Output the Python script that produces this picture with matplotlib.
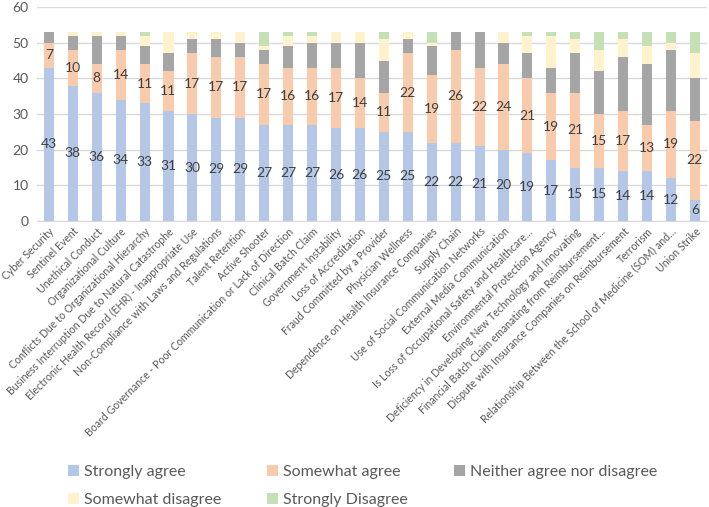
import numpy as np
import matplotlib
matplotlib.use("Agg")
import matplotlib.pyplot as plt

plt.rcParams['font.family'] = ['Lato', 'DejaVu Sans']

# Risk categories (x axis)
categories = [
    "Cyber Security", "Sentinel Event", "Unethical Conduct", "Organizational Culture",
    "Conflicts Due to Organizational Hierarchy",
    "Business Interruption Due to Natural Catastrophe",
    "Electronic Health Record (EHR) - Inappropriate Use",
    "Non-Compliance with Laws and Regulations", "Talent Retention", "Active Shooter",
    "Board Governance - Poor Communication or Lack of Direction",
    "Clinical Batch Claim", "Government Instability", "Loss of Accreditation",
    "Fraud Committed by a Provider", "Physician Wellness",
    "Dependence on Health Insurance Companies", "Supply Chain",
    "Use of Social Communication Networks", "External Media Communication",
    "Is Loss of Occupational Safety and Healthcare...",
    "Environmental Protection Agency",
    "Deficiency in Developing New Technology and Innovating",
    "Financial Batch Claim emanating from Reimbursement...",
    "Dispute with Insurance Companies on Reimbursement", "Terrorism",
    "Relationship Between the School of Medicine (SOM) and...", "Union Strike",
]

# Responses per category
strongly_agree = [43, 38, 36, 34, 33, 31, 30, 29, 29, 27, 27, 27, 26, 26,
                  25, 25, 22, 22, 21, 20, 19, 17, 15, 15, 14, 14, 12, 6]
somewhat_agree = [7, 10, 8, 14, 11, 11, 17, 17, 17, 17, 16, 16, 17, 14,
                  11, 22, 19, 26, 22, 24, 21, 19, 21, 15, 17, 13, 19, 22]
neither = [3, 4, 8, 4, 5, 5, 4, 5, 4, 4, 6, 7, 7, 10,
           9, 4, 8, 5, 10, 6, 7, 7, 11, 12, 15, 17, 17, 12]
somewhat_disagree = [0, 1, 1, 1, 3, 6, 2, 2, 3, 1, 3, 2, 3, 3,
                     6, 2, 1, 0, 0, 3, 5, 9, 4, 6, 5, 5, 2, 7]
strongly_disagree = [0, 0, 0, 0, 1, 0, 0, 0, 0, 4, 1, 1, 0, 0,
                     2, 0, 3, 0, 0, 0, 1, 1, 2, 5, 2, 4, 3, 6]

series = [
    ("Strongly agree", strongly_agree, "#B4C7E7"),
    ("Somewhat agree", somewhat_agree, "#F8CBAD"),
    ("Neither agree nor disagree", neither, "#A5A5A5"),
    ("Somewhat disagree", somewhat_disagree, "#FFF2CC"),
    ("Strongly Disagree", strongly_disagree, "#C5E0B4"),
]

fig = plt.figure(figsize=(7.09, 5.07), dpi=100)
ax = fig.add_axes([0.052, 0.564, 0.945, 0.422])

x = np.arange(len(categories))
bottom = np.zeros(len(categories))
handles = []
for i, (name, vals, color) in enumerate(series):
    vals = np.array(vals, dtype=float)
    bars = ax.bar(x, vals, 0.42, bottom=bottom, color=color, label=name, zorder=2)
    handles.append(bars)
    if i < 2:
        # data labels on the two agree segments
        for xi, b, v in zip(x, bottom, vals):
            ax.text(xi, b + v / 2, f"{int(v)}", ha='center', va='center',
                    fontsize=10, color='#404040', zorder=3)
    bottom += vals

ax.set_xlim(-0.5, len(categories) - 0.5)
ax.set_ylim(0, 60)
ax.set_yticks(range(0, 61, 10))
ax.yaxis.grid(True, color='#D9D9D9', linewidth=1, zorder=0)
ax.set_axisbelow(True)
for s in ['top', 'right', 'left']:
    ax.spines[s].set_visible(False)
ax.spines['bottom'].set_color('#D9D9D9')
ax.tick_params(axis='both', length=0, colors='#595959')
ax.tick_params(axis='y', labelsize=10, pad=6)
ax.set_xticks(x)
ax.set_xticklabels(categories, rotation=45, ha='right', rotation_mode='anchor',
                   fontsize=7.6, color='#595959')

order = [0, 3, 1, 4, 2]
fig.legend([handles[k] for k in order], [series[k][0] for k in order],
           loc='lower left', bbox_to_anchor=(0.075, -0.028), ncol=3, frameon=False,
           fontsize=11.5, handlelength=0.7, handleheight=0.7, handletextpad=0.3,
           columnspacing=2.9, labelspacing=0.85, labelcolor='#595959')

fig.savefig("out.png", dpi=100)
